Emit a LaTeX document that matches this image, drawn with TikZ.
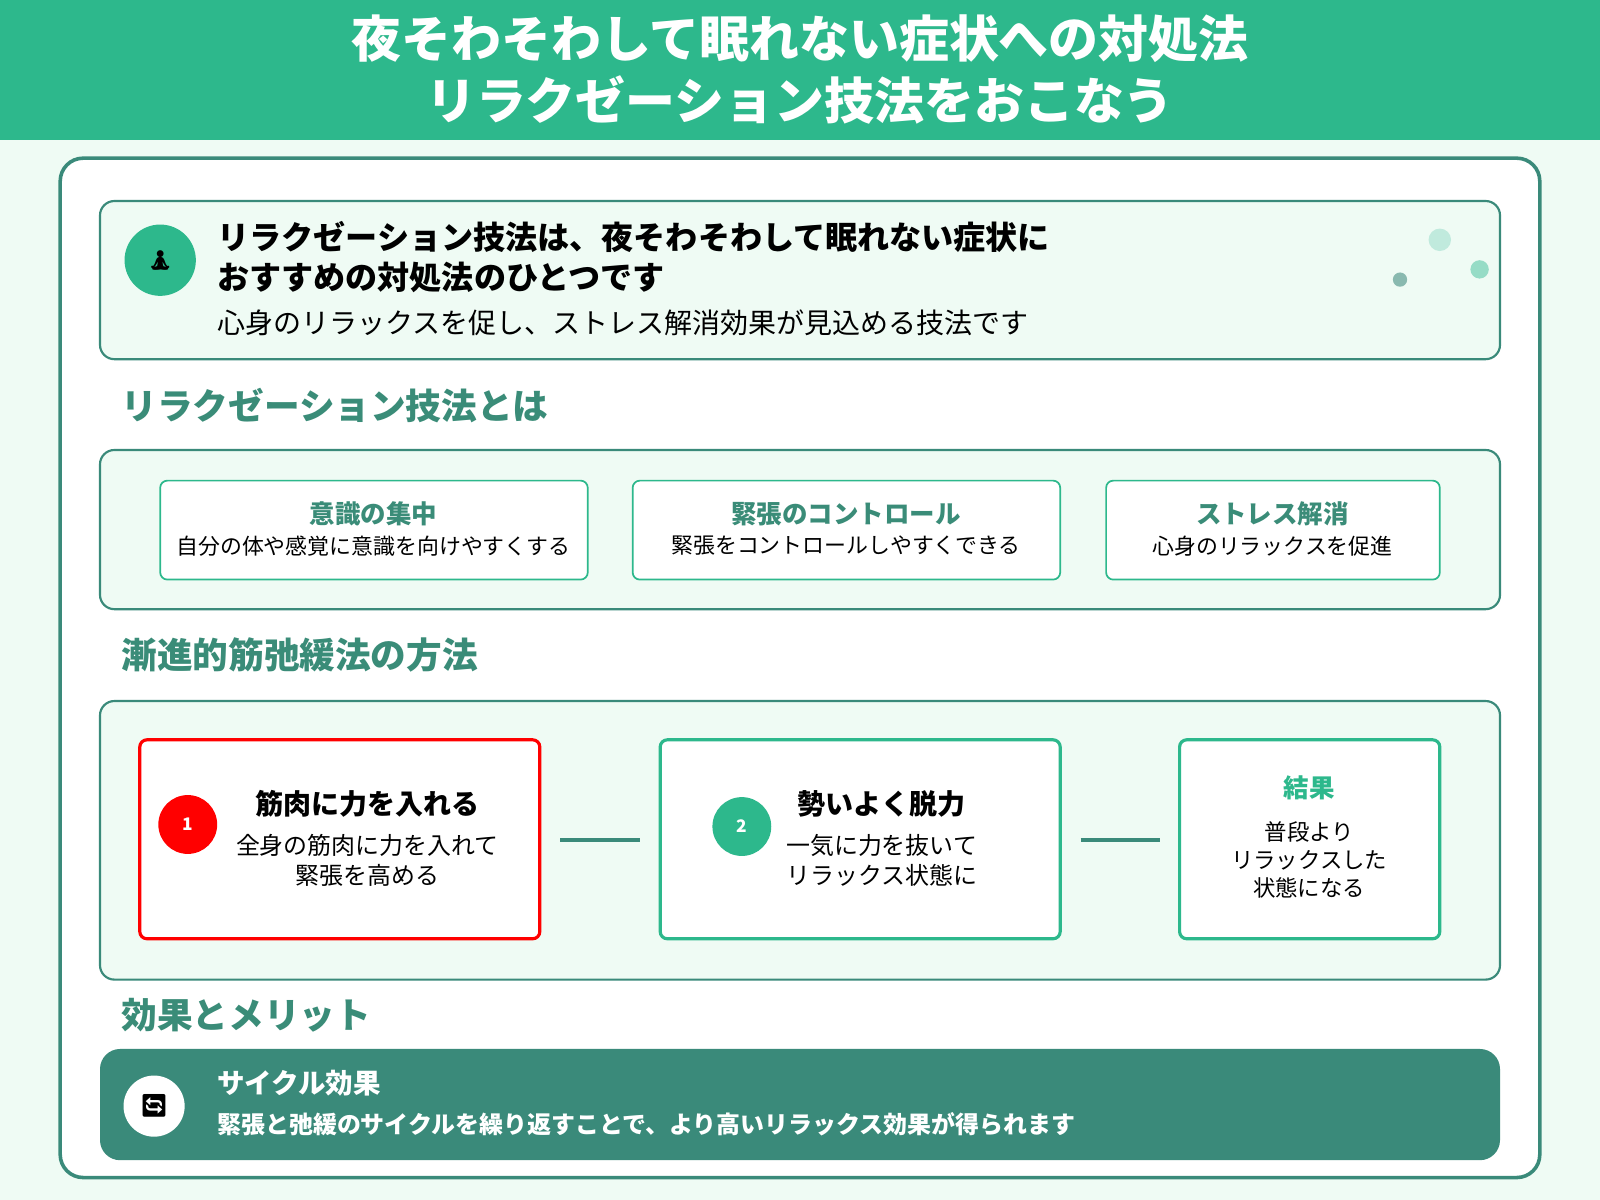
\documentclass[tikz,border=0pt]{standalone}
\usepackage{fontspec}
\setmainfont{Noto Sans CJK JP}
\newfontfamily\emo{Noto Emoji}
\newcommand{\fsz}[1]{\fontsize{\fpeval{#1*0.71}pt}{\fpeval{#1*0.88}pt}\selectfont}
\definecolor{hdr}{HTML}{2DB88C}
\definecolor{bgm}{HTML}{EFFBF4}
\definecolor{teal}{HTML}{3A8A7A}
\definecolor{tealtxt}{HTML}{3A8C78}
\begin{document}
\begin{tikzpicture}[x=0.025cm,y=-0.025cm,
  panel/.style={draw=teal,line width=1.5pt,rounded corners=10pt,fill=bgm},
  card/.style={draw=hdr,line width=1.2pt,rounded corners=5pt,fill=white},
  stepcard/.style={draw=hdr,line width=2.2pt,rounded corners=5pt,fill=white},
  sec/.style={anchor=west,text=tealtxt,font=\bfseries\fsz{35}},
  ctitle/.style={text=tealtxt,font=\bfseries\fsz{25}},
  ctext/.style={font=\fsz{21.5}},
  conn/.style={draw=teal,line width=3pt}]
\fill[bgm] (0,0) rectangle (1568,1176);
\useasboundingbox (0,0) rectangle (1568,1176);
\fill[hdr] (0,0) rectangle (1568,137);
\node[text=white,font=\bfseries\fsz{49},align=center] (title) at (784,68) {夜そわそわして眠れない症状への対処法\\リラクゼーション技法をおこなう};
\draw[draw=teal,line width=2.5pt,rounded corners=16pt,fill=white] (59,155) rectangle (1509,1154);
% intro
\draw[panel] (98,197) rectangle (1470,352);
\node[circle,fill=hdr,minimum size=49.7pt] (ic1) at (157,255) {\emo\fsz{20}🧘};
\node[anchor=north west,align=left,font=\bfseries\fsz{31.5}] (it) at (208,212) {リラクゼーション技法は、夜そわそわして眠れない症状に\\おすすめの対処法のひとつです};
\node[anchor=west,font=\fsz{27.5}] (is) at (208,316) {心身のリラックスを促し、ストレス解消効果が見込める技法です};
\fill[hdr!30] (1411,235) circle (11);
\fill[hdr!50] (1450,264) circle (9);
\fill[teal!60] (1372,274) circle (7);
% section 1
\node[sec] (s1) at (114,397) {リラクゼーション技法とは};
\draw[panel] (98,441) rectangle (1470,597);
\draw[card] (157,471) rectangle (576,568);
\draw[card] (620,471) rectangle (1039,568);
\draw[card] (1084,471) rectangle (1411,568);
\node[ctitle] (c1t) at (366,504) {意識の集中};
\node[ctext] (c1s) at (366,535) {自分の体や感覚に意識を向けやすくする};
\node[ctitle] (c2t) at (829,504) {緊張のコントロール};
\node[ctext] (c2s) at (829,535) {緊張をコントロールしやすくできる};
\node[ctitle] (c3t) at (1247,504) {ストレス解消};
\node[ctext] (c3s) at (1247,535) {心身のリラックスを促進};
% section 2
\node[sec] (s2) at (114,642) {漸進的筋弛緩法の方法};
\draw[panel] (98,687) rectangle (1470,960);
\draw[stepcard,draw=red] (137,725) rectangle (529,920);
\draw[stepcard] (647,725) rectangle (1039,920);
\draw[stepcard] (1156,725) rectangle (1411,920);
\coordinate (a1) at (549,823); \coordinate (a2) at (627,823);
\coordinate (b1) at (1059,823); \coordinate (b2) at (1137,823);
\draw[conn] (a1) -- (a2);
\draw[conn] (b1) -- (b2);
\node[circle,fill=red,minimum size=41pt,text=white,font=\bfseries\itshape\fsz{17}] (n1) at (184,808) {1};
\node[font=\bfseries\fsz{27.5}] (t1) at (360,788) {筋肉に力を入れる};
\node[font=\fsz{23.5},align=center] (d1) at (360,843) {全身の筋肉に力を入れて\\緊張を高める};
\node[circle,fill=hdr,minimum size=41pt,text=white,font=\bfseries\fsz{17}] (n2) at (727,810) {2};
\node[font=\bfseries\fsz{27.5}] (t2) at (864,788) {勢いよく脱力};
\node[font=\fsz{23.5},align=center] (d2) at (864,843) {一気に力を抜いて\\リラックス状態に};
\node[text=hdr,font=\bfseries\fsz{25}] (t3) at (1283,772) {結果};
\node[font=\fsz{22},align=center] (d3) at (1283,843) {普段より\\リラックスした\\状態になる};
% section 3
\node[sec] (s3) at (114,995) {効果とメリット};
\fill[teal,rounded corners=14pt] (98,1028) rectangle (1470,1137);
\node[circle,fill=white,minimum size=42.6pt] (ic2) at (151,1084) {\emo\fsz{22}🔄};
\node[anchor=west,text=white,font=\bfseries\fsz{27}] (et) at (208,1062) {サイクル効果};
\node[anchor=west,text=white,font=\bfseries\fsz{23.5}] (es) at (208,1102) {緊張と弛緩のサイクルを繰り返すことで、より高いリラックス効果が得られます};
\end{tikzpicture}
\end{document}
